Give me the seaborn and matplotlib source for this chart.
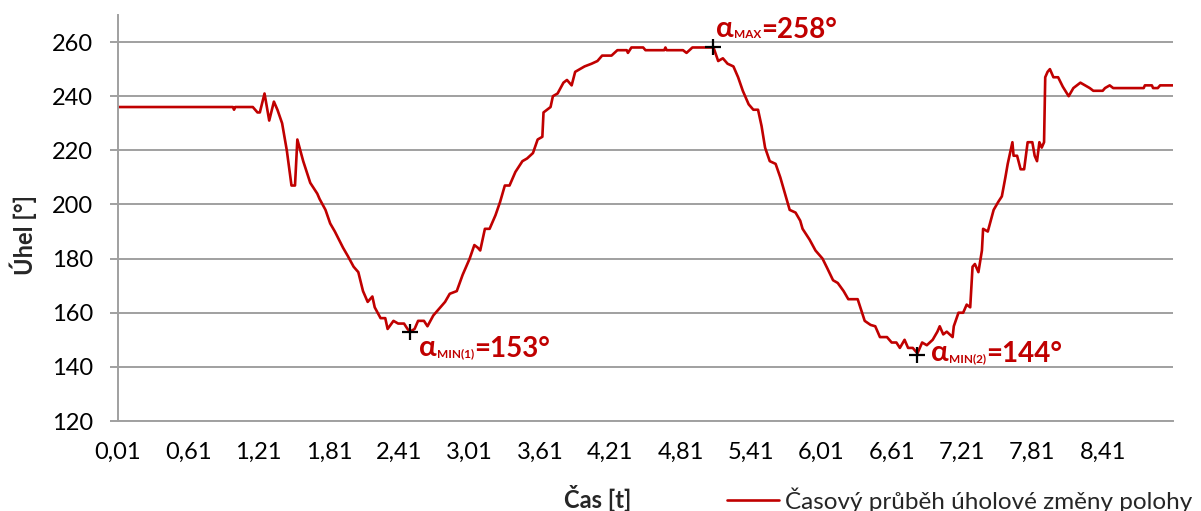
import matplotlib
matplotlib.use("Agg")
import numpy as np
import pandas as pd
import seaborn as sns
import matplotlib.pyplot as plt
from matplotlib.lines import Line2D

# ---------------- data ----------------
time_s = [0.01, 0.99, 1.00, 1.01, 1.16, 1.20, 1.22, 1.26, 1.30, 1.34, 1.37, 1.41,
          1.45, 1.49, 1.52, 1.54, 1.59, 1.65, 1.71, 1.73, 1.78, 1.82, 1.86, 1.93,
          1.97, 2.02, 2.06, 2.10, 2.14, 2.18, 2.20, 2.25, 2.29, 2.31, 2.36, 2.40,
          2.45, 2.48, 2.50, 2.54, 2.57, 2.62, 2.65, 2.70, 2.76, 2.80, 2.84, 2.90,
          2.95, 3.01, 3.05, 3.08, 3.10, 3.14, 3.18, 3.23, 3.27, 3.31, 3.35, 3.40,
          3.46, 3.50, 3.55, 3.59, 3.63, 3.64, 3.67, 3.70, 3.72, 3.76, 3.81, 3.84,
          3.88, 3.91, 3.95, 3.99, 4.05, 4.10, 4.14, 4.22, 4.27, 4.35, 4.36, 4.39,
          4.49, 4.51, 4.67, 4.68, 4.69, 4.83, 4.86, 4.91, 5.09, 5.13, 5.17, 5.21,
          5.26, 5.30, 5.34, 5.39, 5.43, 5.47, 5.50, 5.53, 5.57, 5.62, 5.66, 5.70,
          5.74, 5.79, 5.83, 5.85, 5.91, 5.96, 6.02, 6.06, 6.11, 6.15, 6.20, 6.24,
          6.32, 6.38, 6.43, 6.47, 6.51, 6.57, 6.61, 6.65, 6.68, 6.72, 6.75, 6.79,
          6.83, 6.87, 6.91, 6.96, 7.00, 7.02, 7.05, 7.08, 7.13, 7.14, 7.18, 7.22,
          7.25, 7.28, 7.30, 7.32, 7.35, 7.38, 7.39, 7.43, 7.48, 7.52, 7.55, 7.58,
          7.60, 7.64, 7.65, 7.68, 7.71, 7.74, 7.77, 7.81, 7.83, 7.85, 7.87, 7.89,
          7.91, 7.92, 7.94, 7.96, 7.99, 8.03, 8.07, 8.12, 8.16, 8.19, 8.22, 8.26,
          8.30, 8.33, 8.41, 8.43, 8.47, 8.50, 8.76, 8.77, 8.83, 8.84, 8.88, 8.90,
          9.01]
angle_deg = [236, 236, 235, 236, 236, 234, 234, 241, 231, 238, 235, 230,
             220, 207, 207, 224, 216, 208, 204, 202, 198, 193, 190, 184,
             181, 177, 175, 168, 164, 166, 162, 158, 158, 154, 157, 156,
             156, 154, 153, 154, 157, 157, 155, 159, 162, 164, 167, 168,
             174, 180, 185, 184, 183, 191, 191, 196, 201, 207, 207, 212,
             216, 217, 219, 224, 225, 234, 235, 236, 240, 241, 245, 246,
             244, 249, 250, 251, 252, 253, 255, 255, 257, 257, 256, 258,
             258, 257, 257, 258, 257, 257, 256, 258, 258, 253, 254, 252,
             251, 247, 242, 237, 235, 235, 229, 221, 216, 215, 210, 204,
             198, 197, 194, 191, 187, 183, 180, 176.5, 172, 171, 168, 165,
             165, 157, 155.5, 155, 151, 151, 149, 149, 147, 150, 147, 147,
             145, 149, 148, 150, 153, 155, 152, 153, 151, 155, 160, 160,
             163, 162, 177, 178, 175, 183, 191, 190, 198, 201, 203, 210,
             215, 223, 218, 218, 213, 213, 223, 223, 218, 216, 223, 221,
             223, 247, 249, 250, 247, 247, 243.5, 240, 243, 244, 245, 244,
             243, 242, 242, 243, 244, 243, 243, 244, 244, 243, 243, 244,
             244]

extreme_t = [2.50, 5.09, 6.83]
extreme_v = [153, 258, 144.5]
extreme_labels = [("MIN(1)", "=153°"), ("MAX", "=258°"), ("MIN(2)", "=144°")]

x_tick_values = [0.01, 0.61, 1.21, 1.81, 2.41, 3.01, 3.61, 4.21, 4.81, 5.41,
                 6.01, 6.61, 7.21, 7.81, 8.41]
x_tick_labels = ["0,01", "0,61", "1,21", "1,81", "2,41", "3,01", "3,61", "4,21",
                 "4,81", "5,41", "6,01", "6,61", "7,21", "7,81", "8,41"]
y_ticks = [120, 140, 160, 180, 200, 220, 240, 260]

legend_label = "Časový průběh úholové změny polohy"
x_title = "Čas [t]"
y_title = "Úhel [°]"

# ---------------- styling ----------------
sns.set_theme(style="white")
FONTS = ["Lato", "Open Sans", "DejaVu Sans"]
plt.rcParams["font.family"] = FONTS

RED = "#c00000"
GRID = "#a0a0a0"
W, H = 1201, 511

fig = plt.figure(figsize=(W / 100, H / 100), dpi=100)
ax = fig.add_axes([118 / W, 1 - 421 / H, (1173 - 118) / W, (421 - 15) / H])

df = pd.DataFrame({"t": time_s, "uhel": angle_deg})
sns.lineplot(data=df, x="t", y="uhel", ax=ax, color=RED, linewidth=1.9,
             legend=False, sort=False)
ax.plot(extreme_t, extreme_v, linestyle="none", marker="+", markersize=11,
        markeredgewidth=1.6, color="black", zorder=5)

ax.set_xlim(0.01, 9.01)
ax.set_ylim(120, 270)
ax.set_yticks(y_ticks)
ax.set_xticks(x_tick_values)
ax.set_xticklabels(x_tick_labels)
ax.set_xlabel("")
ax.set_ylabel("")

ax.yaxis.grid(True, color=GRID, linewidth=1.4)
ax.xaxis.grid(False)
for s in ["top", "right"]:
    ax.spines[s].set_visible(False)
for s in ["left", "bottom"]:
    ax.spines[s].set_visible(True)
    ax.spines[s].set_color(GRID)
    ax.spines[s].set_linewidth(1.4)

ax.tick_params(axis="y", length=6, width=1.4, color=GRID, pad=12,
               labelsize=17, labelcolor="black", left=True)
ax.tick_params(axis="x", length=0, pad=15, labelsize=17, labelcolor="black")

# axis titles
fig.text(598 / W, 1 - 499 / H, x_title, ha="center", va="center",
         fontsize=17, fontweight="bold")
fig.text(23 / W, 1 - 235 / H, y_title, ha="center", va="center",
         rotation=90, fontsize=17, fontweight="bold")

# legend
handle = Line2D([], [], color=RED, linewidth=1.9)
fig.legend([handle], [legend_label], loc="center left",
           bbox_to_anchor=(727 / W, 1 - 500 / H), frameon=False,
           fontsize=17.5, handlelength=2.15, handletextpad=0.22, borderpad=0,
           borderaxespad=0)

# annotations for the extremes
anno_pos = [(419, 356), (716, 37), (931, 361)]
for (sub, val), (px, py) in zip(extreme_labels, anno_pos):
    a = fig.text(px / W, 1 - py / H, "α", color=RED, fontsize=21,
                 fontweight="bold", ha="left", va="baseline")
    b = ax.annotate(sub, xy=(1, 0), xycoords=a, xytext=(0, 1.5),
                    textcoords="offset points", color=RED, fontsize=8.5,
                    fontweight="bold", ha="left", va="bottom",
                    annotation_clip=False)
    ax.annotate(val, xy=(1, 0), xycoords=b, xytext=(0, -2),
                textcoords="offset points", color=RED, fontsize=20,
                fontweight="bold", ha="left", va="bottom",
                annotation_clip=False)

fig.savefig("out.png", dpi=100)
